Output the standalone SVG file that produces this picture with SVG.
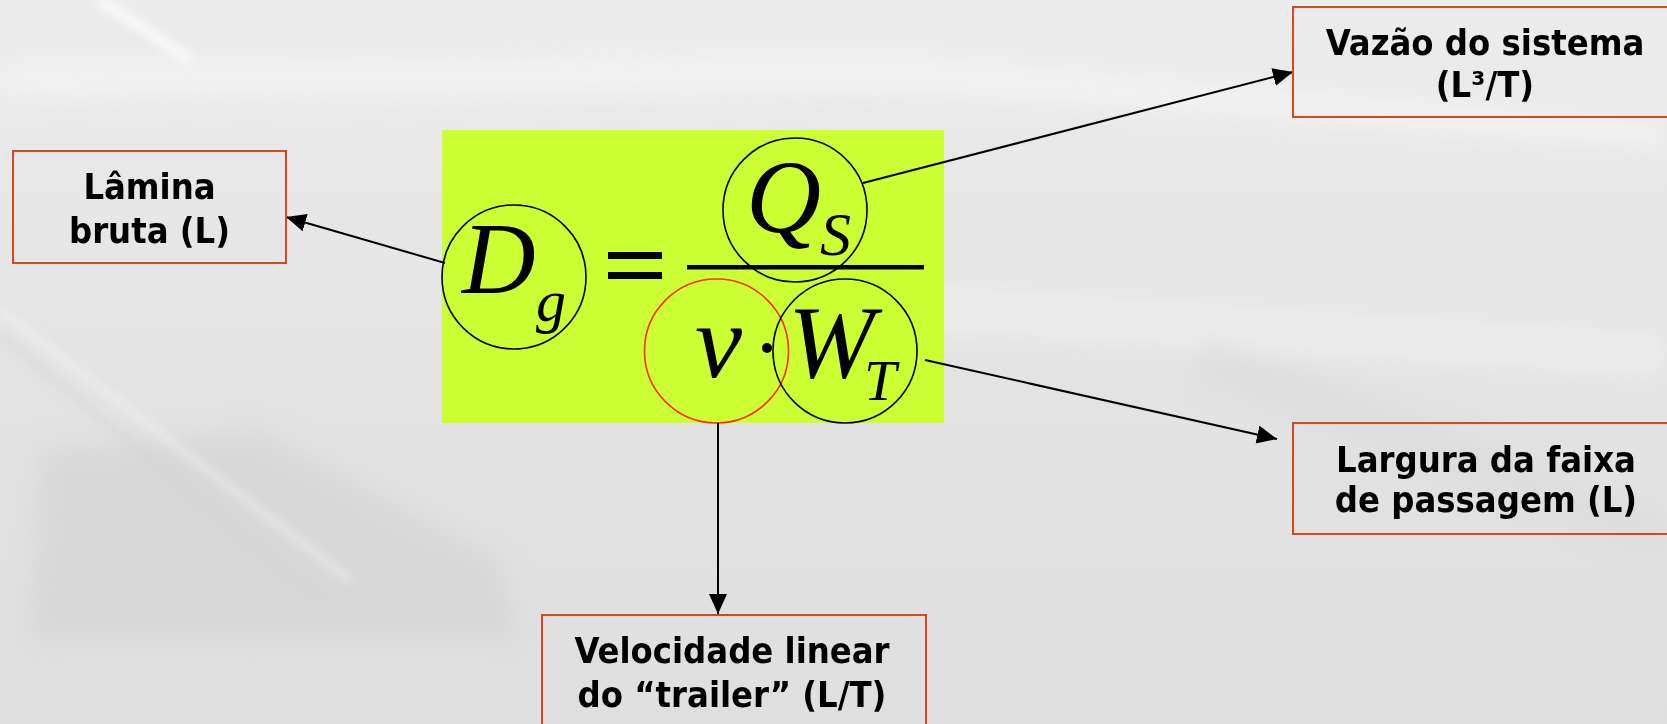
<svg xmlns="http://www.w3.org/2000/svg" width="1667" height="724" viewBox="0 0 1667 724">
  <defs>
    <linearGradient id="bg" x1="0" y1="0" x2="0" y2="1">
      <stop offset="0" stop-color="#ececec"/>
      <stop offset="0.5" stop-color="#e3e3e3"/>
      <stop offset="1" stop-color="#dfdfdf"/>
    </linearGradient>
    <filter id="blur" x="-20%" y="-20%" width="140%" height="140%">
      <feGaussianBlur stdDeviation="12"/>
    </filter>
    <filter id="blur2" x="-20%" y="-20%" width="140%" height="140%">
      <feGaussianBlur stdDeviation="5"/>
    </filter>
    <marker id="arrow" viewBox="0 0 20 20" refX="20" refY="10" markerWidth="20" markerHeight="20" markerUnits="userSpaceOnUse" orient="auto">
      <path d="M0,1 L20,10 L0,19 Z" fill="#000"/>
    </marker>
    <style>
      .box { fill: none; stroke: #d9481c; stroke-width: 2; }
      .lbl { font-family: "DejaVu Sans Condensed", "DejaVu Sans", "Liberation Sans", sans-serif; font-stretch: condensed; font-weight: bold; font-size: 36px; fill: #000; text-anchor: middle; }
      .math { font-family: "Liberation Serif", "Times New Roman", serif; font-style: italic; fill: #000; }
      .ring { fill: none; stroke: #000; stroke-width: 1.6; }
      .conn { fill: none; stroke: #000; stroke-width: 2; }
    </style>
  </defs>

  <!-- background (faded photo) -->
  <g id="background">
    <rect x="0" y="0" width="1667" height="724" fill="url(#bg)"/>
    <g filter="url(#blur)">
      <path d="M0,60 L900,50 L1667,120 L1667,150 L900,95 L0,100 Z" fill="#f5f5f5" opacity="0.7"/>
      <path d="M40,450 L260,430 L500,560 L520,640 L30,640 Z" fill="#d2d2d2" opacity="0.6"/>
      <path d="M900,280 L1667,330 L1667,380 L900,330 Z" fill="#f2f2f2" opacity="0.6"/>
      <path d="M1200,330 L1667,520 L1667,560 L1200,380 Z" fill="#d8d8d8" opacity="0.4"/>
    </g>
    <g filter="url(#blur2)">
      <path d="M100,0 L190,60" stroke="#fafafa" stroke-width="10" fill="none"/>
      <path d="M0,310 L350,580" stroke="#f3f3f3" stroke-width="6" fill="none" opacity="0.6"/>
      <path d="M0,335 L320,600" stroke="#d0d0d0" stroke-width="5" fill="none" opacity="0.5"/>
    </g>
  </g>

  <!-- equation -->
  <g id="equation">
    <rect x="442" y="130" width="502" height="293" fill="#ccff33"/>
    <text class="math" x="462" y="293" font-size="102">D<tspan x="536" y="321" font-size="60">g</tspan></text>
    <rect x="608" y="252" width="54" height="7" fill="#000"/>
    <rect x="608" y="272" width="54" height="7" fill="#000"/>
    <text class="math" x="746" y="232" font-size="104">Q<tspan x="820" y="255" font-size="62">S</tspan></text>
    <rect x="687" y="265" width="237" height="4.5" fill="#000"/>
    <text class="math" x="695" y="377" font-size="106">v</text>
    <circle cx="767" cy="348" r="5" fill="#000"/>
    <text class="math" x="788" y="377" font-size="104" letter-spacing="-12">W<tspan x="864" y="400" font-size="58" letter-spacing="0">T</tspan></text>
  </g>

  <g id="ring-D"><circle class="ring" cx="514" cy="277" r="72"/></g>
  <g id="ring-Q"><circle class="ring" cx="795" cy="210" r="72"/></g>
  <g id="ring-v"><circle cx="716.5" cy="351" r="72" fill="none" stroke="#ff2a00" stroke-width="1.6"/></g>
  <g id="ring-W"><circle class="ring" cx="845" cy="351" r="72"/></g>

  <!-- connectors -->
  <g id="connectors">
    <line class="conn" x1="445" y1="263" x2="286" y2="217" marker-end="url(#arrow)"/>
    <line class="conn" x1="863" y1="183" x2="1293" y2="72" marker-end="url(#arrow)"/>
    <line class="conn" x1="925" y1="360" x2="1277" y2="439" marker-end="url(#arrow)"/>
    <line class="conn" x1="718" y1="423" x2="718" y2="614" marker-end="url(#arrow)"/>
  </g>

  <g id="node-lamina">
    <rect class="box" x="13" y="151" width="273" height="112"/>
    <text class="lbl" x="149.5" y="199">Lâmina</text>
    <text class="lbl" x="149.5" y="243">bruta (L)</text>
  </g>

  <g id="node-vazao">
    <rect class="box" x="1293" y="7" width="400" height="110"/>
    <text class="lbl" x="1485" y="55">Vazão do sistema</text>
    <text class="lbl" x="1485" y="97">(L³/T)</text>
  </g>

  <g id="node-largura">
    <rect class="box" x="1293" y="423" width="400" height="111"/>
    <text class="lbl" x="1486" y="472">Largura da faixa</text>
    <text class="lbl" x="1486" y="512">de passagem (L)</text>
  </g>

  <g id="node-velocidade">
    <rect class="box" x="542" y="615" width="384" height="130"/>
    <text class="lbl" x="732" y="663">Velocidade linear</text>
    <text class="lbl" x="732" y="707">do “trailer” (L/T)</text>
  </g>
</svg>
